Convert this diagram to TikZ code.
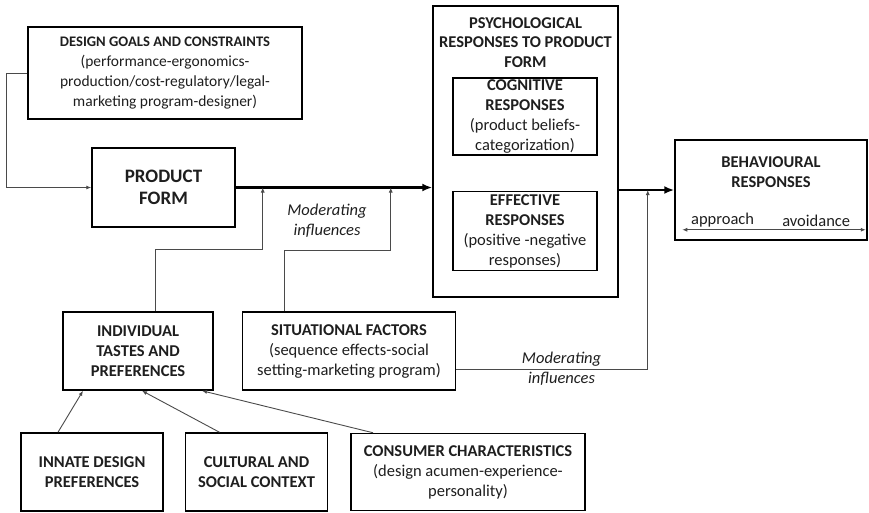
\documentclass[tikz,border=0pt]{standalone}
\usepackage{fontspec}
\setmainfont{Carlito}
\usetikzlibrary{arrows.meta,positioning,calc}
\definecolor{inkdark}{HTML}{1E1E1E}
\definecolor{wiregray}{HTML}{4A4A4A}

\begin{document}
\begin{tikzpicture}[x=1pt, y=-1pt,
  box/.style={draw=black, line width=1.5pt, text=inkdark, align=center,
              inner xsep=2pt, inner ysep=0pt, font=\fontsize{16.5}{20}\selectfont},
  head/.style={text=inkdark, align=center, inner sep=0pt,
               font=\fontsize{16.5}{19.5}\selectfont\bfseries},
  flow/.style={-{Latex[length=10pt,width=8pt]}, line width=2.4pt},
  wire/.style={-{Latex[length=5pt,width=4pt]}, line width=0.9pt, draw=wiregray},
  note/.style={font=\fontsize{16.5}{20}\selectfont\itshape, text=inkdark, align=center}]
\useasboundingbox (0,0) rectangle (869,512);

% upper row
\node[box, minimum width=274pt, minimum height=92pt,
      font=\fontsize{15.5}{19.7}\selectfont] (goals) at (165,73)
  {{\fontsize{14.6}{19.7}\selectfont\bfseries DESIGN GOALS AND CONSTRAINTS}\\(performance-ergonomics-\\
   production/cost-regulatory/legal-\\marketing program-designer)};
\node[box, minimum width=143pt, minimum height=79pt,
      font=\fontsize{19}{22}\selectfont\bfseries] (product) at (163.5,187.5) {PRODUCT\\FORM};

% psychological responses, with its two inner boxes
\node[box, minimum width=185pt, minimum height=291pt] (psych) at (525.5,151.5) {};
\node[head, below=12pt of psych.north] (psychtitle)
  {PSYCHOLOGICAL\\RESPONSES TO PRODUCT\\FORM};
\node[box, minimum width=144pt, minimum height=77pt] (cog) at (525,116.5)
  {\textbf{COGNITIVE}\\\textbf{RESPONSES}\\(product beliefs-\\categorization)};
\node[box, minimum width=144pt, minimum height=79pt, below=35pt of cog] (eff)
  {\textbf{EFFECTIVE}\\\textbf{RESPONSES}\\(positive -negative\\responses)};

\node[box, minimum width=192pt, minimum height=100pt] (behav) at (771,190) {};
\node[head] (behavtitle) at (771,172) {BEHAVIOURAL\\RESPONSES};

% lower rows
\node[box, minimum width=150pt, minimum height=78pt] (indiv) at (138,351)
  {\textbf{INDIVIDUAL}\\\textbf{TASTES AND}\\\textbf{PREFERENCES}};
\node[box, minimum width=213pt, minimum height=78pt, right=28pt of indiv] (sit)
  {\textbf{SITUATIONAL FACTORS}\\(sequence effects-social\\setting-marketing program)};
\node[box, minimum width=142pt, minimum height=78pt] (innate) at (92,472)
  {\textbf{INNATE DESIGN}\\\textbf{PREFERENCES}};
\node[box, minimum width=142pt, minimum height=78pt, right=21pt of innate] (cultural)
  {\textbf{CULTURAL AND}\\\textbf{SOCIAL CONTEXT}};
\node[box, minimum width=234pt, minimum height=77pt, right=22pt of cultural] (consumer)
  {\textbf{CONSUMER CHARACTERISTICS}\\(design acumen-experience-\\personality)};

% points where the moderating lines meet the main flow
\coordinate (tapA) at ([xshift=27pt]product.east);
\coordinate (tapB) at ([xshift=155pt]product.east);
\coordinate (tapC) at ($(psych.east |- behav.west)+(29,0)$);

% main flow
\draw[wire] (goals.west) -- ++(-21,0) |- (product.west);
\draw[flow] (product.east) -- (product.east -| psych.west);
\draw[flow] (psych.east |- behav.west) -- (behav.west);
\draw[{Latex[length=5pt,width=4pt]}-{Latex[length=5pt,width=4pt]}, line width=0.9pt, draw=wiregray]
  ([shift={(8,-11)}]behav.south west) -- ([shift={(-2,-11)}]behav.south east)
  node[pos=0.22, above=-1pt, font=\fontsize{16.5}{20}\selectfont, text=inkdark] (appr) {approach}
  node[pos=0.73, above=-1pt, font=\fontsize{16.5}{20}\selectfont, text=inkdark] (avoid) {avoidance};

% moderating influences
\draw[wire] ([xshift=17pt]indiv.north) -- ++(0,-62) -| (tapA);
\draw[wire] ([xshift=-64.5pt]sit.north) -- ++(0,-61) -| (tapB);
\node[note] (modA) at (327,221) {Moderating\\influences};
\draw[wire] ([yshift=-18pt]sit.east) -| node[note, pos=0.275] (modB) {Moderating\\influences} (tapC);

% sources of taste
\draw[wire] ([xshift=-34pt]innate.north) -- ([xshift=-55pt]indiv.south);
\draw[wire] ([xshift=-37pt]cultural.north) -- ([xshift=4pt]indiv.south);
\draw[wire] ([xshift=-95pt]consumer.north) -- ([xshift=64pt]indiv.south);
\end{tikzpicture}
\end{document}
